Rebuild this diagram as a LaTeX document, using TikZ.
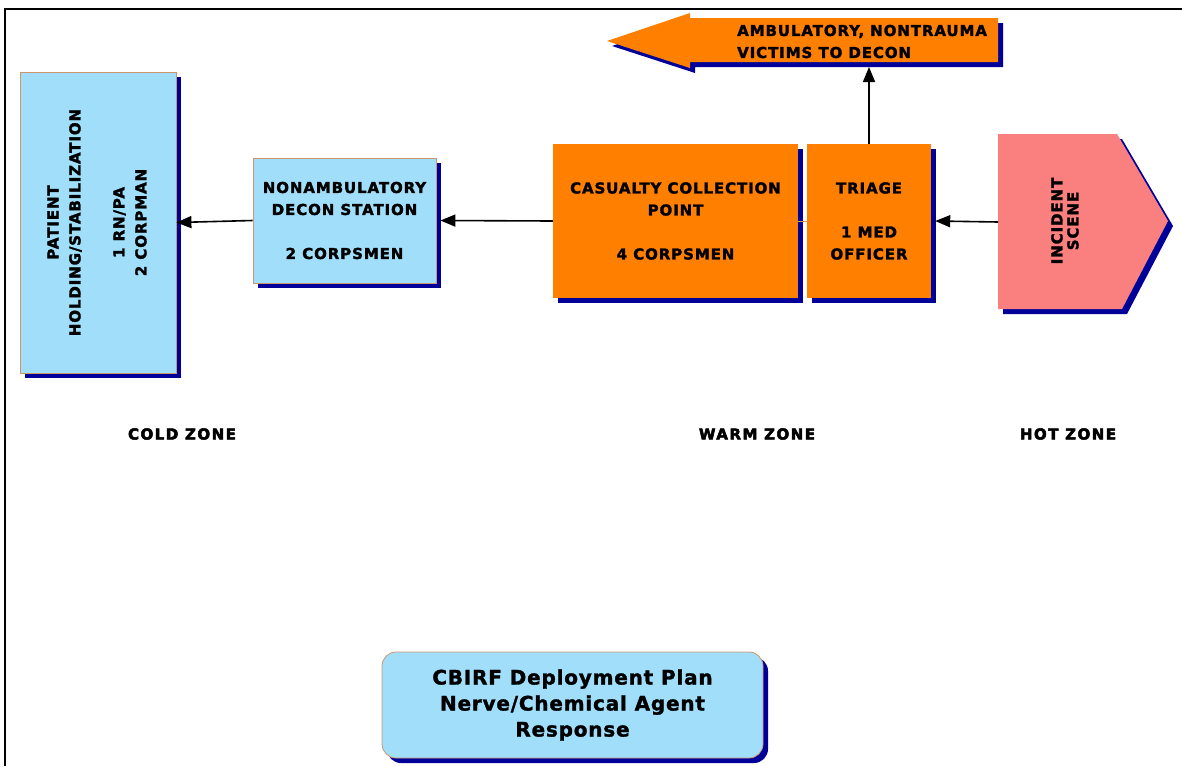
\documentclass[tikz,border=0pt]{standalone}
\usepackage{fontspec}
\usepackage{graphicx}
\setmainfont{DejaVu Sans}
\usetikzlibrary{shadows,arrows.meta}

\definecolor{paleblue}{RGB}{160,222,250}
\definecolor{deckorange}{RGB}{255,128,0}
\definecolor{hotpink}{RGB}{250,128,128}
\definecolor{navy}{RGB}{0,0,153}
\definecolor{tanedge}{RGB}{205,150,110}

\newfontfamily\heavyfont[LetterSpace=6,FakeBold=2]{DejaVu Sans Bold}
\newfontfamily\zoneface[LetterSpace=10,FakeBold=3.5]{DejaVu Sans Bold}
\newfontfamily\titleface[LetterSpace=4,FakeBold=1.5]{DejaVu Sans Bold}
\newcommand{\boxfont}{\heavyfont\fontsize{15}{22}\selectfont}
\newcommand{\zonefont}{\zoneface\fontsize{15}{17}\selectfont}
\newcommand{\sidetext}[1]{\rotatebox{90}{\begin{tabular}{@{}c@{}}#1\end{tabular}}}

\begin{document}
\begin{tikzpicture}[x=1pt,y=-1pt,
    boxshadow/.style={drop shadow={shadow xshift=5pt,shadow yshift=-5pt,fill=navy,opacity=1}},
    bluebox/.style={boxshadow,draw=tanedge,line width=0.8pt,fill=paleblue,font=\boxfont,align=center,inner sep=0pt},
    orangebox/.style={boxshadow,fill=deckorange,font=\boxfont,align=center,inner sep=0pt},
    zone/.style={font=\zonefont},
    link/.style={line width=1.6pt,-{Triangle[length=15pt,width=12pt]}}]
    \useasboundingbox (0,0) rectangle (1182,766);
    \draw[line width=2.5pt] (5,766) -- (5,9) -- (1182,9);
    % cold zone
    \node[bluebox,minimum width=156,minimum height=301] (patient) at (98,222.5)
        {\sidetext{PATIENT\\HOLDING/STABILIZATION\\[22pt]1 RN/PA\\2 CORPMAN}};
    \node[bluebox,minimum width=183,minimum height=125] (decon) at (344.5,220.5)
        {NONAMBULATORY\\DECON STATION\\[22pt]2 CORPSMEN};
    % warm zone
    \node[orangebox,minimum width=245,minimum height=154] (ccp) at (675.5,221)
        {CASUALTY COLLECTION\\POINT\\[22pt]4 CORPSMEN};
    \node[orangebox,minimum width=124,minimum height=154] (triage) at (869,221)
        {TRIAGE\\[22pt]1 MED\\OFFICER};
    \path[boxshadow,fill=deckorange] (607,41) -- (690,13) -- (690,18) -- (998,18)
        -- (998,62) -- (690,62) -- (690,68) -- cycle;
    \coordinate (ambulatory) at (869,67);
    \node[font=\boxfont,align=left,anchor=west,inner sep=0pt] (ambtext) at (737,41.5)
        {AMBULATORY, NONTRAUMA\\VICTIMS TO DECON};
    % hot zone
    \path[boxshadow,fill=hotpink] (998,134) -- (1117,134) -- (1168,221) -- (1122,309)
        -- (998,309) -- cycle;
    \coordinate (incident) at (998,222);
    \node[font=\boxfont,inner sep=0pt] (scene) at (1066,221)
        {\sidetext{INCIDENT\\[-6pt]SCENE}};
    % flow
    \draw[link] (incident) -- ([xshift=4pt]triage.east);
    \draw[tanedge,line width=0.6pt] (triage.west) -- (ccp.east);
    \draw[link] (triage.north) -- (ambulatory);
    \draw[link] (ccp.west) -- ([xshift=4pt]decon.east);
    \draw[link] (decon.west) -- (patient.east);
    % zones
    \node[zone] (cold) at (182,434) {COLD ZONE};
    \node[zone] (warm) at (757,434) {WARM ZONE};
    \node[zone] (hot) at (1068,434) {HOT ZONE};
    % title
    \node[boxshadow,draw=tanedge,line width=0.8pt,fill=paleblue,rounded corners=14pt,
        minimum width=381,minimum height=106,align=center,inner sep=0pt,
        font=\titleface\fontsize{20}{26}\selectfont] (title) at (572.5,705)
        {CBIRF Deployment Plan\\Nerve/Chemical Agent\\Response};
\end{tikzpicture}
\end{document}
